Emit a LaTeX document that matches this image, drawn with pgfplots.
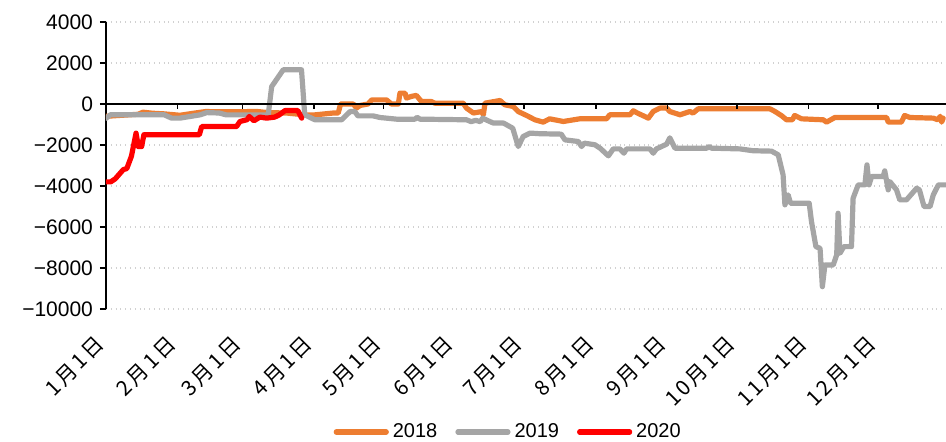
\documentclass[border=0pt]{standalone}
\usepackage{fontspec}
\setmainfont{Liberation Sans}
\newfontfamily\cjk[LetterSpace=12]{Noto Sans CJK SC}
\usepackage{pgfplots}
\pgfplotsset{compat=1.18}

\definecolor{c2018}{HTML}{ED7D31}
\definecolor{c2019}{HTML}{A5A5A5}
\definecolor{c2020}{HTML}{FF0000}

\begin{document}
\begin{tikzpicture}
\begin{axis}[
    name=ax,
    scale only axis,
    width=420pt, height=143.5pt,
    xmin=0, xmax=363.5,
    ymin=-10000, ymax=4000,
    scaled y ticks=false,
    axis y line=left, axis x line=bottom,
    x axis line style={draw=none},
    y axis line style={-, black, line width=0.9pt},
    xtick={0,31,59,90,120,151,181,212,243,273,304,334},
    xticklabels={1月1日,2月1日,3月1日,4月1日,5月1日,6月1日,7月1日,8月1日,9月1日,10月1日,11月1日,12月1日},
    xtick style={draw=none},
    % shifts act in the rotated frame
    xticklabel style={font=\cjk\fontsize{10.5}{12}\selectfont, rotate=45, anchor=east, xshift=-7.5pt, yshift=-7pt},
    ytick={-10000,-8000,-6000,-4000,-2000,0,2000,4000},
    yticklabels={−10000,−8000,−6000,−4000,−2000,0,2000,4000},
    yticklabel style={font=\fontsize{10.5}{12}\selectfont},
    ytick style={black, line width=0.8pt},
    tick align=outside, major tick length=3pt,
    ymajorgrids,
    major grid style={draw=black!18, dotted, line width=0.9pt},
    every axis plot/.append style={line width=2.6pt, line join=round, line cap=round},
    legend columns=3,
    legend style={at={(0.48,-0.4286)}, anchor=center, draw=none, fill=none,
        font=\fontsize{10}{12}\selectfont, /tikz/every even column/.append style={column sep=7pt}},
    legend image code/.code={\draw[#1, line width=2.6pt, line cap=round] (0pt,0pt) -- (25pt,0pt);},
]
\addplot[c2018] coordinates {
(0,-600) (14,-500) (16,-400) (20,-450) (25,-480) (32,-550) (38,-450) (43,-370) (58,-380) (65,-360) (70,-420) (78,-440) (86,-530) (90.4,-530) (98.4,-440) (100.5,-440) (101.5,0) (107,0) (108.4,-200) (110,-70) (113.4,0) (115,200) (121.4,200) (123.5,0) (126.5,0) (127.2,530) (129.4,530) (130,290) (132.2,370) (134.3,420) (136.5,120) (140.8,120) (142.3,40) (154.6,40) (156,-200) (159,-440) (162.6,-370) (163.3,-530) (164,40) (170.5,170) (172.6,-40) (176.2,-120) (178.4,-370) (182,-560) (185.6,-770) (189.2,-885) (192,-723) (197.9,-853) (205,-723) (216.6,-723) (218,-527) (226.7,-527) (228.2,-332) (230,-444) (234.7,-690) (236.8,-366) (239.7,-200) (242.6,-200) (244,-366) (248.4,-527) (252.7,-366) (254,-444) (256.3,-234) (287.3,-234) (289.5,-366) (292.4,-576) (294.5,-771) (297,-771) (298,-560) (301,-723) (310.4,-771) (311.8,-885) (315.4,-659) (337.8,-659) (338.5,-885) (344.2,-885) (345.6,-560) (347.9,-659) (358,-690) (360,-770) (361,-600) (361.6,-885) (362.3,-690)
};
\addlegendentry{2018}
\addplot[c2019] coordinates {
(0,-700) (2,-520) (25,-520) (28.4,-690) (32,-690) (40.7,-530) (43.6,-420) (49,-440) (52,-530) (70.2,-530) (71.7,850) (76.7,1670) (84.6,1670) (86,-530) (90.4,-770) (102,-770) (105.6,-370) (107.7,-370) (109,-580) (115.6,-580) (118.6,-660) (125.8,-740) (133.7,-740) (134.6,-650) (135.9,-740) (156,-770) (158,-860) (160,-800) (162,-860) (163,-690) (165,-800) (167.6,-930) (172,-930) (176,-1180) (178.4,-2075) (180.5,-1590) (183.5,-1420) (187.8,-1450) (197,-1470) (198.6,-1750) (204.4,-1830) (205.8,-2075) (207,-1910) (211.6,-1990) (213.8,-2155) (217.4,-2530) (219.5,-2190) (222.4,-2190) (224.1,-2400) (225.3,-2190) (235.4,-2190) (236.8,-2400) (238.2,-2190) (242.6,-1960) (244,-1650) (246.2,-2155) (260,-2155) (261,-2075) (262,-2155) (274.3,-2190) (280,-2280) (288,-2300) (290.9,-2480) (293,-3457) (293.8,-4920) (295.2,-4434) (296.2,-4840) (304.3,-4840) (305.3,-5737) (307.2,-6958) (309,-7040) (310,-8912) (311.1,-7852) (314.7,-7852) (316.2,-7363) (316.8,-5330) (317.6,-7282) (319.3,-6958) (322.6,-6958) (323.3,-4596) (325.5,-3945) (328.4,-3945) (329.3,-2969) (330.2,-3945) (331.3,-3540) (336.3,-3540) (337,-3262) (338.5,-4190) (339.2,-3784) (342.1,-4190) (343.5,-4678) (346.4,-4678) (350.8,-4108) (352,-4190) (354,-5005) (356.6,-5005) (358,-4434) (360.2,-3945) (363.4,-3945)
};
\addlegendentry{2019}
\addplot[c2020] coordinates {
(0,-3800) (2,-3800) (4,-3650) (7.5,-3200) (9,-3150) (11,-2550) (13,-1420) (14,-2080) (15.4,-2080) (16.4,-1500) (40.4,-1500) (41.4,-1100) (56.5,-1100) (58,-850) (61,-770) (62,-610) (64,-820) (66.6,-640) (69.5,-690) (73,-640) (75,-530) (77.5,-320) (83,-320) (84.7,-690)
};
\addlegendentry{2020}
\end{axis}
\begin{axis}[
    scale only axis,
    width=420pt, height=143.5pt,
    xmin=0, xmax=363.5,
    ymin=-10000, ymax=4000,
    scaled y ticks=false,
    axis x line=middle, axis y line=none,
    x axis line style={-, black, line width=0.9pt},
    xtick={31,59,90,120,151,181,212,243,273,304,334},
    xticklabels={},
    xtick style={black, line width=0.8pt},
    tick align=outside, major tick length=2.5pt,
]
\end{axis}
\pgfresetboundingbox
\path ([shift={(-53pt,-66.5pt)}]ax.south west) rectangle ([shift={(0pt,11pt)}]ax.north east);
\end{tikzpicture}
\end{document}
